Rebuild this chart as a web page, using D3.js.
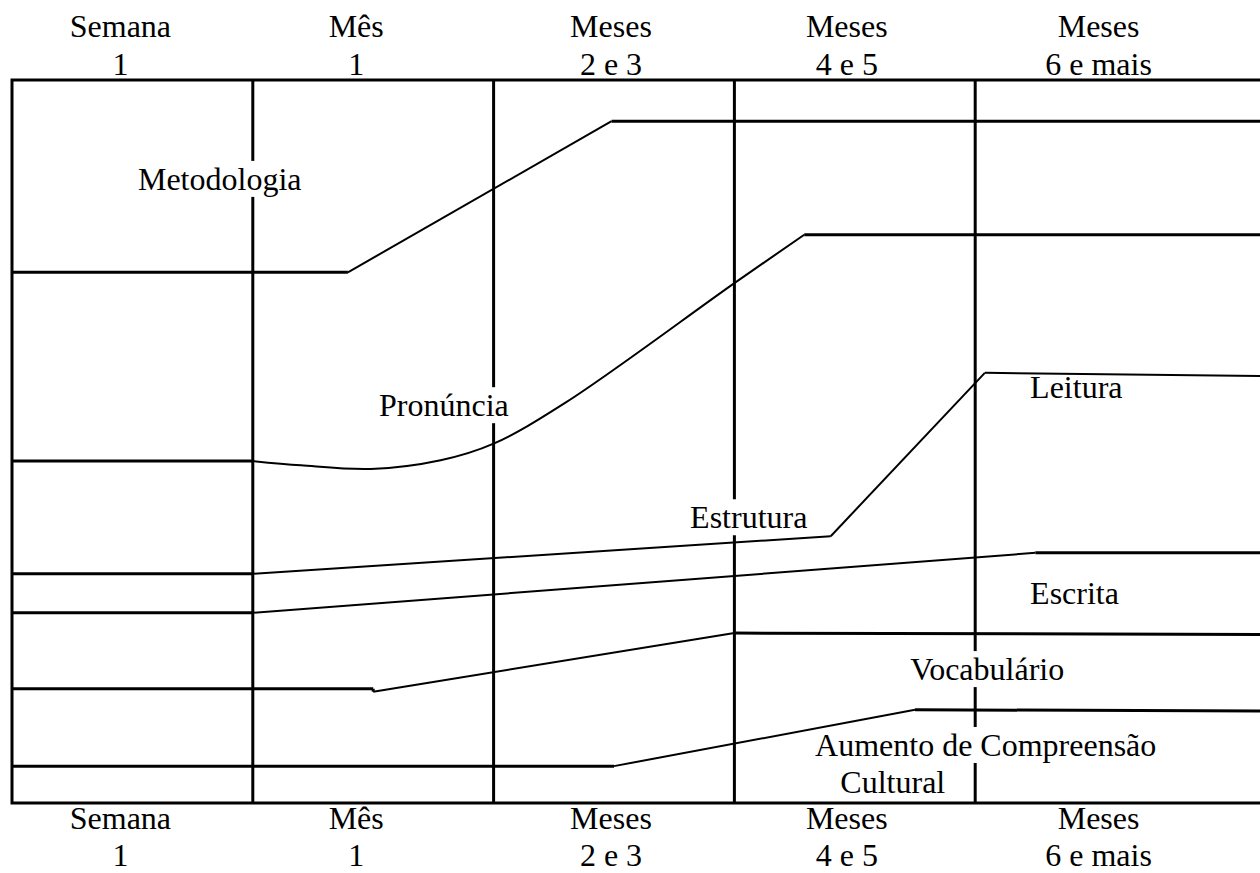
<!DOCTYPE html>
<html>
<head>
<meta charset="utf-8">
<script src="https://cdn.jsdelivr.net/npm/d3@7"></script>
<style>
  body { margin: 0; background: white; overflow: hidden; }
  text { font-family: "Liberation Serif", "Times New Roman", serif; font-size: 32px; fill: black; }
</style>
</head>
<body>
<div id="chart"></div>
<script>
// colunas do eixo do tempo
var periodos = ["Semana", "Mês", "Meses", "Meses", "Meses"];
var periodosSub = ["1", "1", "2 e 3", "4 e 5", "6 e mais"];

// x = posição em colunas de tempo, y = nível (0-100)
var metodologia = [[0, 73.4], [1.395, 73.4], [2.49, 94.3], [5.3, 94.3]];
var pronunciaInicio = [[0, 47.3], [1, 47.3]];
var pronunciaCurva = [[1, 47.3], [1.2, 46.7], [1.49, 46.2], [1.78, 47.4], [2, 49.7], [2.3, 55.4], [3, 71.9], [3.29, 78.6]];
var pronunciaFim = [[3.29, 78.6], [5.3, 78.6]];
var estrutura = [[0, 31.7], [1, 31.7], [3.40, 36.9], [4.04, 59.5], [5.3, 59.0]];
var escrita = [[0, 26.3], [1, 26.3], [4.25, 34.6], [5.3, 34.6]];
var vocabulario = [[0, 15.8], [1.5, 15.8], [1.5, 15.4], [3, 23.5], [5.3, 23.3]];
var cultural = [[0, 5.1], [2.5, 5.1], [3.75, 12.9], [5.3, 12.7]];

// rótulos: texto, x (colunas), y (nível da linha de base)
var rotulos = [
    ["Metodologia", 0.523, 84.8],
    ["Pronúncia", 1.524, 53.5],
    ["Leitura", 4.228, 56.0],
    ["Estrutura", 2.816, 38.0],
    ["Escrita", 4.228, 27.5],
    ["Vocabulário", 3.73, 17.0],
    ["Aumento de Compreensão", 3.335, 6.5],
    ["Cultural", 3.44, 1.4]
];

width = 1260;
height = 873;
nudge = [-12, -17, -3, -8, 3];

x = d3.scaleLinear().domain([0, 5]).range([12, 1216]);
y = d3.scaleLinear().domain([0, 100]).range([803, 80]);

svg = d3.select("#chart").append("svg")
    .attr("width", width)
    .attr("height", height);

// moldura
svg.append("rect")
    .attr("x", x(0))
    .attr("y", y(100))
    .attr("width", x(5.3) - x(0))
    .attr("height", y(0) - y(100))
    .style("fill", "white")
    .style("stroke", "black")
    .style("stroke-width", 3);

// divisões das colunas
svg.selectAll(".divisao")
    .data([1, 2, 3, 4])
    .enter().append("line")
    .attr("class", "divisao")
    .attr("x1", function(d) { return x(d); })
    .attr("x2", function(d) { return x(d); })
    .attr("y1", y(100))
    .attr("y2", y(0))
    .style("stroke", "black")
    .style("stroke-width", 3);

// cabeçalhos em cima e embaixo
[[37, 75], [829, 866]].forEach(function(linhas) {
    periodos.forEach(function(p, i) {
        var cx = x(i + 0.5) + nudge[i];
        svg.append("text").attr("x", cx).attr("y", linhas[0])
            .attr("text-anchor", "middle").text(p);
        svg.append("text").attr("x", cx).attr("y", linhas[1])
            .attr("text-anchor", "middle").text(periodosSub[i]);
    });
});

// rótulos com fundo branco (tapam as divisões)
gr = svg.append("g");
rotulos.forEach(function(r) {
    var t = gr.append("text")
        .attr("x", x(r[1]))
        .attr("y", y(r[2]))
        .text(r[0]);
    var b = t.node().getBBox();
    gr.insert("rect", "text")
        .attr("x", b.x)
        .attr("y", b.y)
        .attr("width", b.width)
        .attr("height", b.height)
        .style("fill", "white");
});

// segmentos: horizontais mais grossos, inclinados mais finos
function desenhaSegmentos(pts) {
    for (var i = 0; i < pts.length - 1; i++) {
        var a = pts[i], b = pts[i + 1];
        svg.append("line")
            .attr("x1", x(a[0])).attr("y1", y(a[1]))
            .attr("x2", x(b[0])).attr("y2", y(b[1]))
            .style("stroke", "black")
            .style("stroke-width", Math.abs(a[1] - b[1]) < 0.5 ? 3 : 2);
    }
}

desenhaSegmentos(metodologia);
desenhaSegmentos(pronunciaInicio);
desenhaSegmentos(pronunciaFim);
desenhaSegmentos(estrutura);
desenhaSegmentos(escrita);
desenhaSegmentos(vocabulario);
desenhaSegmentos(cultural);

curva = d3.line()
    .x(function(d) { return x(d[0]); })
    .y(function(d) { return y(d[1]); })
    .curve(d3.curveCatmullRom.alpha(0.5));

svg.append("path")
    .attr("d", curva(pronunciaCurva))
    .style("fill", "none")
    .style("stroke", "black")
    .style("stroke-width", 2);
</script>
</body>
</html>
